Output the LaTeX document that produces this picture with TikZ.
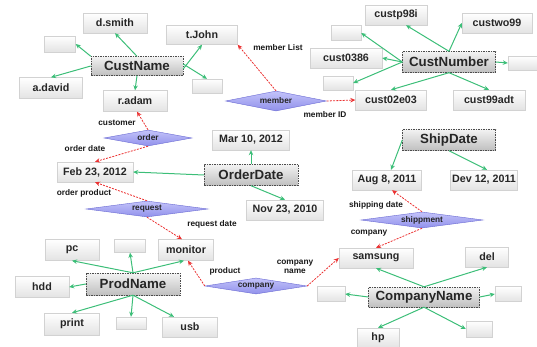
\documentclass[tikz,border=0pt]{standalone}
\usepackage{fontspec}
\setmainfont{Liberation Sans}
\usetikzlibrary{arrows.meta,shapes.geometric,shadows}
\definecolor{garr}{RGB}{60,190,120}
\definecolor{rarr}{RGB}{235,50,50}
\definecolor{dline}{RGB}{105,105,210}
\definecolor{dtop}{RGB}{195,195,250}
\definecolor{dbot}{RGB}{145,145,235}
\begin{document}
\begin{tikzpicture}[x=1pt,y=-1pt,
  val/.style={draw=gray!35, top color=white, bottom color=gray!22, minimum height=20pt, inner sep=0pt,
    font=\fontsize{10.7}{12}\selectfont\bfseries, text=black!85,
    drop shadow={shadow xshift=0.8pt,shadow yshift=-0.8pt,opacity=0.25,fill=gray}},
  attr/.style={draw=gray!60!black, dash pattern=on 1.5pt off 1pt, top color=gray!10, bottom color=gray!50,
    minimum height=21pt, inner sep=0pt, font=\fontsize{13.3}{15}\selectfont\bfseries, text=black!85},
  rel/.style={diamond, aspect=5, draw=dline, top color=dtop, bottom color=dbot, inner sep=0pt,
    font=\fontsize{8.3}{9}\selectfont\bfseries, text=black!85},
  garrow/.style={draw=garr, line width=1pt, -{Stealth[length=5pt,width=4.5pt]}},
  rarrow/.style={draw=rarr, line width=0.8pt, dash pattern=on 2pt off 1.2pt, -{Stealth[length=5pt,width=4.5pt]}},
  lbl/.style={font=\fontsize{8.3}{9.5}\selectfont\bfseries, inner sep=0pt, text=black!90, align=center}]
\useasboundingbox (0,0) rectangle (537,347);

% CustName cluster
\node[attr, minimum width=92pt, minimum height=19pt] (custname) at (137,66) {CustName};
\node[val, minimum width=64pt] (dsmith) at (115,23) {d.smith};
\node[val, minimum width=71pt, minimum height=19pt] (tjohn) at (202,35) {t.John};
\node[val, minimum width=31pt, minimum height=16pt] (ce1) at (60,44) {};
\node[val, minimum width=63pt, minimum height=21pt] (adavid) at (51,88) {a.david};
\node[val, minimum width=64pt, minimum height=21pt] (radam) at (135,101) {r.adam};
\node[val, minimum width=30pt, minimum height=14pt] (ce2) at (207,86) {};

% CustNumber cluster
\node[attr, minimum width=93pt] (custnum) at (449,62) {CustNumber};
\node[val, minimum width=62pt] (cp98) at (396,15) {custp98i};
\node[val, minimum width=70pt] (cw99) at (497,23) {custwo99};
\node[val, minimum width=30pt, minimum height=15pt] (ne1) at (346,33) {};
\node[val, minimum width=72pt] (c0386) at (346,58) {cust0386};
\node[val, minimum width=30pt, minimum height=14pt] (ne2) at (338,83) {};
\node[val, minimum width=71pt] (c02) at (391,100) {cust02e03};
\node[val, minimum width=72pt] (c99) at (489,100) {cust99adt};
\node[val, minimum width=30pt, minimum height=14pt] (ne3) at (523,63) {};

% relationships top
\node[rel, minimum width=101pt, minimum height=20pt] (member) at (276,101) {member};
\node[rel, minimum width=88pt, minimum height=16pt] (order) at (148,138) {order};

% OrderDate cluster
\node[val, minimum width=76pt] (feb) at (95,172) {Feb 23, 2012};
\node[attr, minimum width=94pt] (orderdate) at (251,175) {OrderDate};
\node[val, minimum width=77pt] (mar) at (251,140) {Mar 10, 2012};
\node[val, minimum width=77pt] (nov) at (285,210) {Nov 23, 2010};
\node[rel, minimum width=122pt, minimum height=16pt] (request) at (147,209) {request};

% ProdName cluster
\node[attr, minimum width=94pt, minimum height=22pt] (prodname) at (133,284) {ProdName};
\node[val, minimum width=54pt, minimum height=21pt] (pc) at (72,250) {pc};
\node[val, minimum width=31pt, minimum height=13pt] (pe1) at (130,246) {};
\node[val, minimum width=55pt, minimum height=21pt] (monitor) at (186,250) {monitor};
\node[val, minimum width=54pt, minimum height=21pt] (hdd) at (42,287) {hdd};
\node[val, minimum width=55pt, minimum height=22pt] (print) at (72,324) {print};
\node[val, minimum width=30pt, minimum height=12pt] (pe2) at (131,323) {};
\node[val, minimum width=55pt] (usb) at (190,327) {usb};
\node[rel, minimum width=102pt, minimum height=16pt] (company) at (256,286) {company};

% CompanyName cluster
\node[attr, minimum width=111pt, minimum height=20pt] (compname) at (424,297) {CompanyName};
\node[val, minimum width=74pt] (samsung) at (376,258) {samsung};
\node[val, minimum width=43pt] (del) at (487,257) {del};
\node[val, minimum width=28pt, minimum height=15pt] (me1) at (331,294) {};
\node[val, minimum width=26pt, minimum height=15pt] (me2) at (508,294) {};
\node[val, minimum width=42pt] (hp) at (378,338) {hp};
\node[val, minimum width=26pt, minimum height=16pt] (me3) at (479,329) {};

% ShipDate cluster
\node[attr, minimum width=93pt] (shipdate) at (449,140) {ShipDate};
\node[val, minimum width=69pt] (aug) at (387,180) {Aug 8, 2011};
\node[val, minimum width=67pt] (dev) at (484,180) {Dev 12, 2011};
\node[rel, minimum width=122pt, minimum height=16pt] (shipment) at (422,220) {shippment};

% green connectors
\draw[garrow] (custname.north) -- (dsmith.south);
\draw[garrow] (custname.north west) -- (ce1.east);
\draw[garrow] (custname.west) -- (adavid.north);
\draw[garrow] (custname.south) -- (radam.north);
\draw[garrow] ([yshift=-3pt]custname.east) -- (tjohn.south);
\draw[garrow] ([yshift=2pt]custname.east) -- (ce2.north);

\draw[garrow] (custnum.north) -- ([xshift=10pt]cp98.south);
\draw[garrow] (custnum.north) -- (cw99.west);
\draw[garrow] (custnum.west) -- (ne1.east);
\draw[garrow] (custnum.west) -- (c0386.east);
\draw[garrow] (custnum.west) -- (ne2.east);
\draw[garrow] (custnum.south) -- (c02.north);
\draw[garrow] (custnum.south) -- (c99.north);
\draw[garrow] (custnum.east) -- (ne3.west);

\draw[garrow] (orderdate.west) -- (feb.east);
\draw[garrow] (orderdate.north) -- (mar.south);
\draw[garrow] (orderdate.south) -- (nov.north);

\draw[garrow] (prodname.north) -- (pc.south);
\draw[garrow] (prodname.north) -- (pe1.south);
\draw[garrow] (prodname.north) -- ([xshift=-2pt]monitor.south);
\draw[garrow] (prodname.west) -- (hdd.east);
\draw[garrow] (prodname.south) -- (print.north);
\draw[garrow] (prodname.south) -- (pe2.north);
\draw[garrow] (prodname.south) -- ([xshift=-16pt]usb.north);

\draw[garrow] (compname.north) -- (samsung.south);
\draw[garrow] (compname.north) -- (del.south);
\draw[garrow] (compname.west) -- (me1.east);
\draw[garrow] (compname.east) -- (me2.west);
\draw[garrow] (compname.south) -- (hp.north);
\draw[garrow] (compname.south) -- (me3.west);

\draw[garrow] (shipdate.west) -- ([xshift=4pt]aug.north);
\draw[garrow] (shipdate.south) -- ([xshift=3pt]dev.north);

% red connectors
\draw[rarrow] (member.north) -- (tjohn.south east);
\draw[rarrow] (member.east) -- (c02.west);
\draw[rarrow] (order.north) -- ([xshift=2pt]radam.south);
\draw[rarrow] (order.south) -- (feb.north);
\draw[rarrow] (request.north) -- (feb.south);
\draw[rarrow] (request.south) -- ([xshift=-4pt]monitor.north);
\draw[rarrow] (company.west) -- ([xshift=2pt]monitor.south);
\draw[rarrow] (company.east) -- (samsung.west);
\draw[rarrow] (shipment.north) -- ([xshift=5pt]aug.south);
\draw[rarrow] (shipment.south) -- (samsung.north);

% labels
\node[lbl] (lmemberlist) at (278,48) {member List};
\node[lbl] (lmemberid) at (325,115) {member ID};
\node[lbl] (lcustomer) at (117,123) {customer};
\node[lbl] (lorderdate) at (85,149) {order date};
\node[lbl] (lorderprod) at (84,193) {order product};
\node[lbl] (lreqdate) at (212,224) {request date};
\node[lbl] (lproduct) at (225,271) {product};
\node[lbl] (lcompname) at (295,267) {company\\name};
\node[lbl] (lshipdate) at (376,205) {shipping date};
\node[lbl] (lcompany) at (369,233) {company};
\end{tikzpicture}
\end{document}
